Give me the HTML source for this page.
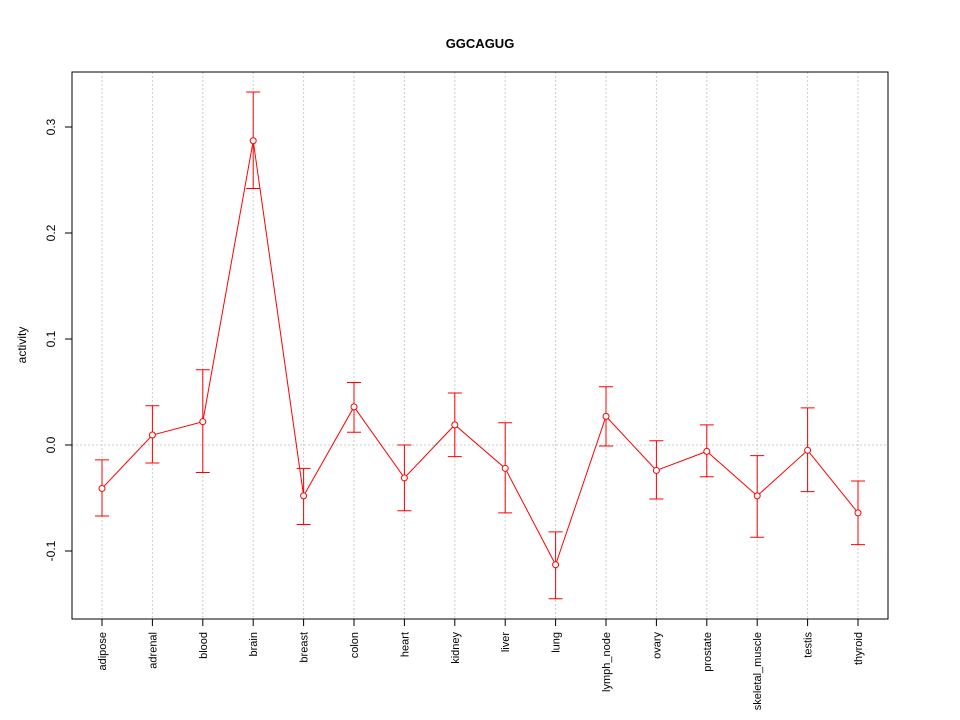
<!DOCTYPE html>
<html><head><meta charset="utf-8"><style>
body{margin:0;background:#fff;}
svg{display:block;font-family:"Liberation Sans",Arial,sans-serif;}
</style></head><body>
<svg id="chart" width="960" height="720" xmlns="http://www.w3.org/2000/svg">
<rect width="960" height="720" fill="#fff"/>
<text x="480" y="48" text-anchor="middle" font-weight="bold" font-size="13">GGCAGUG</text>
<g id="grid"></g>
<g id="marks"></g>
<rect x="72" y="72" width="816" height="547" fill="none" stroke="#000"/>
<g id="axes"></g>
<text transform="translate(26,345) rotate(-90)" text-anchor="middle" font-size="12">activity</text>
</svg>
<script>
const categories=["adipose","adrenal","blood","brain","breast","colon","heart","kidney","liver","lung","lymph_node","ovary","prostate","skeletal_muscle","testis","thyroid"];
const values=[-0.041,0.0094,0.022,0.287,-0.048,0.036,-0.031,0.019,-0.022,-0.113,0.027,-0.024,-0.006,-0.048,-0.005,-0.064];
const upper=[-0.014,0.037,0.071,0.333,-0.022,0.059,0.0,0.049,0.021,-0.082,0.055,0.004,0.019,-0.010,0.035,-0.034];
const lower=[-0.067,-0.017,-0.026,0.242,-0.075,0.012,-0.062,-0.011,-0.064,-0.145,-0.001,-0.051,-0.030,-0.087,-0.044,-0.094];
const yTicks=[-0.1,0.0,0.1,0.2,0.3];
const yTickLabels=["-0.1","0.0","0.1","0.2","0.3"];
const NS="http://www.w3.org/2000/svg";
const xs=i=>102+i*(858-102)/(categories.length-1);
const ys=v=>445-v*1060;
function mk(t,a,p){const e=document.createElementNS(NS,t);for(const k in a)e.setAttribute(k,a[k]);p.appendChild(e);return e;}
const grid=document.getElementById('grid'),marks=document.getElementById('marks'),axes=document.getElementById('axes');
categories.forEach((c,i)=>{
 const g=mk('line',{x1:xs(i),x2:xs(i),y1:72,y2:619,stroke:'#ccc','stroke-dasharray':'2,2'},grid);
 
 
 const t=mk('line',{x1:xs(i),x2:xs(i),y1:619,y2:626,stroke:'#000'},axes);
 
 
 const l=mk('text',{transform:`translate(${xs(i)+4},632) rotate(-90)`,'text-anchor':'end','font-size':'11'},axes);
 l.textContent=c;
 
 
});
yTicks.forEach((v,i)=>{
 if(v===0){const g=mk('line',{x1:72,x2:888,y1:ys(v),y2:ys(v),stroke:'#ccc','stroke-dasharray':'2,2'},grid);
 
 }
 const t=mk('line',{x1:65,x2:72,y1:ys(v),y2:ys(v),stroke:'#000'},axes);
 
 
 const l=mk('text',{transform:`translate(55,${ys(v)}) rotate(-90)`,'text-anchor':'middle','font-size':'12'},axes);
 l.textContent=yTickLabels[i];
 
 
});
const pts=values.map((v,i)=>xs(i)+','+ys(v)).join(' ');
const pl=mk('polyline',{points:pts,fill:'none',stroke:'#f00','stroke-width':1},marks);


values.forEach((v,i)=>{
 const x=xs(i);
 const e=mk('path',{d:`M${x},${ys(upper[i])}V${ys(lower[i])}M${x-7},${ys(upper[i])}H${x+7}M${x-7},${ys(lower[i])}H${x+7}`,stroke:'#f00',fill:'none'},marks);
 
 
 const c=mk('circle',{cx:x,cy:ys(v),r:3,fill:'#fff',stroke:'#f00'},marks);
 
 
});
</script>
</body></html>
